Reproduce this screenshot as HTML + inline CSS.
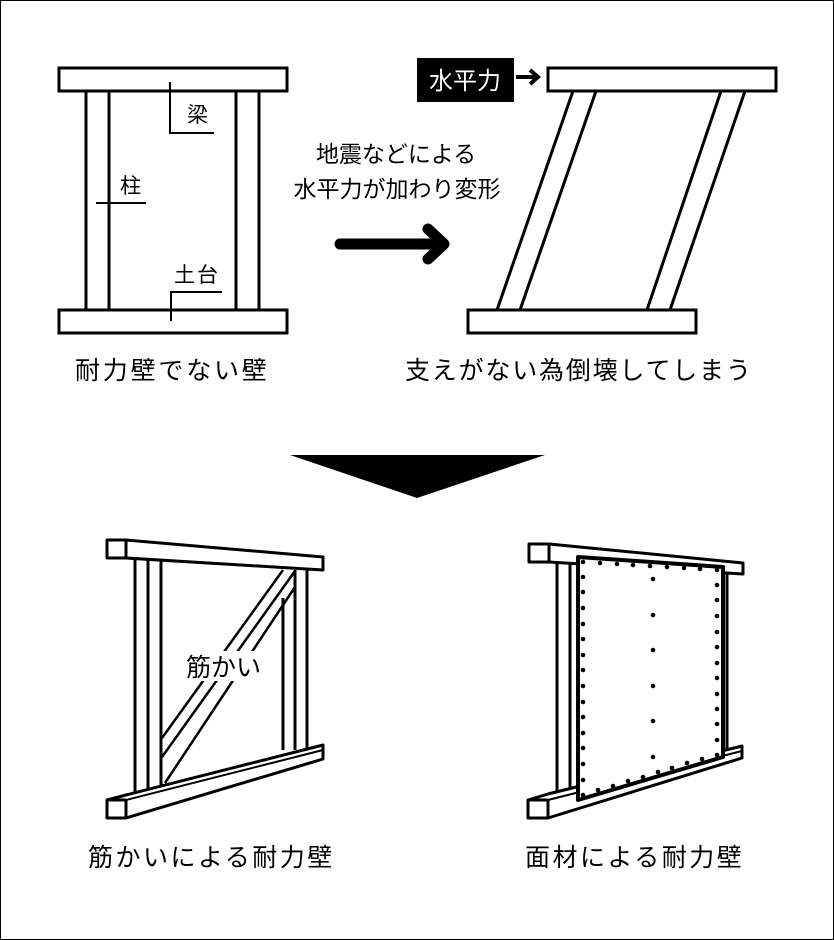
<!DOCTYPE html>
<html><head><meta charset="utf-8"><style>
html,body{margin:0;padding:0;background:#fff}
svg{display:block}
text{font-family:"Liberation Sans","Noto Sans CJK JP",sans-serif;fill:#000}
</style></head><body>
<svg width="834" height="940" viewBox="0 0 834 940" xmlns="http://www.w3.org/2000/svg">
<rect x="0.5" y="0.5" width="833" height="939" fill="#fff" stroke="#000" stroke-width="1"/>
<g fill="none" stroke="#000" stroke-width="3">
<rect x="59" y="68" width="228" height="23" fill="#fff"/>
<rect x="59" y="310" width="228" height="23" fill="#fff"/>
<line x1="86" y1="91" x2="86" y2="310"/><line x1="109" y1="91" x2="109" y2="310"/>
<line x1="236" y1="91" x2="236" y2="310"/><line x1="259" y1="91" x2="259" y2="310"/>
<polyline points="170,82 170,133 214,133" stroke-width="2"/>
<line x1="96" y1="203" x2="146" y2="203" stroke-width="2"/>
<polyline points="171,321 171,292 222,292" stroke-width="2"/>
<rect x="548" y="68" width="228" height="23" fill="#fff"/>
<rect x="468" y="310" width="228" height="23" fill="#fff"/>
<line x1="497" y1="310" x2="573" y2="91"/><line x1="520" y1="310" x2="596" y2="91"/>
<line x1="647" y1="310" x2="721" y2="91"/><line x1="670" y1="310" x2="745" y2="91"/>
<polyline points="516,77 537,77" stroke-width="4"/>
<polyline points="530,70 538,77 530,84" stroke-width="4"/>
<line x1="340" y1="244" x2="442" y2="244" stroke-width="11" stroke-linecap="round"/>
<polyline points="428,229 444,244 428,259" stroke-width="11" stroke-linecap="round" stroke-linejoin="round"/>
</g>
<rect x="417" y="58" width="97" height="44" fill="#000"/>
<text x="465" y="89" font-size="24" text-anchor="middle" style="fill:#fff">水平力</text>
<text x="187" y="122" font-size="21">梁</text>
<text x="120" y="193" font-size="21">柱</text>
<text x="174" y="282" font-size="21" letter-spacing="2">土台</text>
<text x="396" y="162" font-size="23" text-anchor="middle">地震などによる</text>
<text x="397" y="197" font-size="23" text-anchor="middle">水平力が加わり変形</text>
<text x="75" y="379" font-size="25" letter-spacing="2.8">耐力壁でない壁</text>
<text x="405" y="379" font-size="25" letter-spacing="1.8">支えがない為倒壊してしまう</text>
<polygon points="290,455 545,455 417,498" fill="#000"/>
<g fill="#fff" stroke="#000" stroke-width="3" stroke-linejoin="round">
<line x1="135" y1="560" x2="135" y2="795"/>
<line x1="148" y1="560" x2="148" y2="795"/>
<line x1="161" y1="560" x2="161" y2="790"/>
<line x1="283" y1="598" x2="283" y2="750"/>
<line x1="295" y1="570" x2="295" y2="750"/>
<line x1="307" y1="570" x2="307" y2="748"/>
<line x1="162" y1="738" x2="283" y2="570" stroke-width="2.5"/>
<line x1="162" y1="757" x2="295" y2="571" stroke-width="2.5"/>
<line x1="165" y1="783" x2="295" y2="587" stroke-width="2.5"/>
<polygon points="107,540 126,540 323,557 323,570 126,558 107,558"/>
<line x1="126" y1="540" x2="126" y2="558"/>
<polygon points="107,800 126,795 323,745 323,759 126,818 107,818"/>
<line x1="107" y1="800" x2="126" y2="800"/><line x1="126" y1="800" x2="126" y2="818"/>
<line x1="126" y1="800" x2="323" y2="750" stroke-width="2"/>
</g>
<rect x="186" y="651" width="78" height="30" fill="#fff"/>
<text x="186" y="676" font-size="25" style="fill:#000">筋かい</text>
<g fill="#fff" stroke="#000" stroke-width="3" stroke-linejoin="round">
<line x1="557" y1="562" x2="557" y2="798"/>
<line x1="570" y1="562" x2="570" y2="798"/>
<line x1="727" y1="570" x2="727" y2="752"/>
<polygon points="529,544 549,544 743,563 743,574 549,562 529,562"/>
<line x1="549" y1="544" x2="549" y2="562"/>
<polygon points="528,800 548,794 742,746 742,758 548,818 528,818"/>
<line x1="528" y1="800" x2="548" y2="800"/><line x1="548" y1="800" x2="548" y2="818"/>
<line x1="548" y1="800" x2="742" y2="751" stroke-width="2"/>
<polygon points="578,557 723,567 723,757 578,800" stroke-width="4"/>
</g>
<g fill="#000">
<circle cx="583" cy="562" r="2.3"/><circle cx="600" cy="563" r="2.3"/><circle cx="617" cy="564" r="2.3"/><circle cx="633" cy="565" r="2.3"/><circle cx="650" cy="566" r="2.3"/><circle cx="667" cy="567" r="2.3"/><circle cx="684" cy="568" r="2.3"/><circle cx="700" cy="569" r="2.3"/><circle cx="717" cy="570" r="2.3"/>
<circle cx="583" cy="577" r="2.3"/><circle cx="583" cy="592" r="2.3"/><circle cx="583" cy="608" r="2.3"/><circle cx="583" cy="624" r="2.3"/><circle cx="583" cy="639" r="2.3"/><circle cx="583" cy="655" r="2.3"/><circle cx="583" cy="670" r="2.3"/><circle cx="583" cy="686" r="2.3"/><circle cx="583" cy="702" r="2.3"/><circle cx="583" cy="717" r="2.3"/><circle cx="583" cy="733" r="2.3"/><circle cx="583" cy="748" r="2.3"/><circle cx="583" cy="764" r="2.3"/><circle cx="583" cy="780" r="2.3"/><circle cx="583" cy="795" r="2.3"/>
<circle cx="717" cy="585" r="2.3"/><circle cx="717" cy="600" r="2.3"/><circle cx="717" cy="616" r="2.3"/><circle cx="717" cy="632" r="2.3"/><circle cx="717" cy="647" r="2.3"/><circle cx="717" cy="663" r="2.3"/><circle cx="717" cy="678" r="2.3"/><circle cx="717" cy="694" r="2.3"/><circle cx="717" cy="709" r="2.3"/><circle cx="717" cy="724" r="2.3"/><circle cx="717" cy="740" r="2.3"/><circle cx="717" cy="755" r="2.3"/>
<circle cx="598" cy="790" r="2.3"/><circle cx="613" cy="786" r="2.3"/><circle cx="628" cy="781" r="2.3"/><circle cx="643" cy="777" r="2.3"/><circle cx="658" cy="772" r="2.3"/><circle cx="672" cy="768" r="2.3"/><circle cx="687" cy="763" r="2.3"/><circle cx="702" cy="759" r="2.3"/>
<circle cx="653" cy="579" r="2.3"/><circle cx="653" cy="615" r="2.3"/><circle cx="653" cy="650" r="2.3"/><circle cx="653" cy="686" r="2.3"/><circle cx="653" cy="721" r="2.3"/><circle cx="653" cy="757" r="2.3"/>
</g>
<text x="88" y="866" font-size="25" letter-spacing="2.5">筋かいによる耐力壁</text>
<text x="525" y="866" font-size="25" letter-spacing="2.5">面材による耐力壁</text>
</svg>
</body></html>
